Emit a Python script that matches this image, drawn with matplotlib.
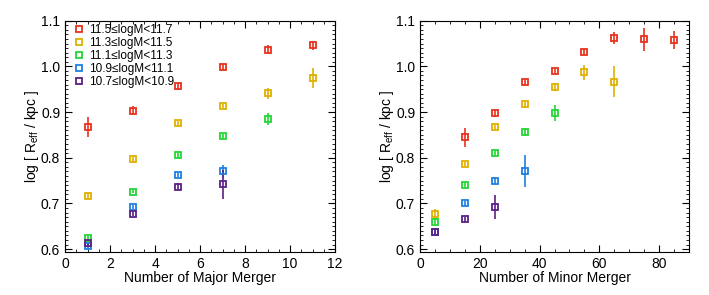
import matplotlib
matplotlib.use("Agg")
from matplotlib import pyplot as plt
from matplotlib.ticker import MultipleLocator

plt.rcParams['font.family'] = ['Liberation Sans', 'DejaVu Sans']
plt.rcParams['mathtext.fontset'] = 'custom'
plt.rcParams['mathtext.rm'] = 'Liberation Sans'

labels = ["11.5\u2264logM<11.7", "11.3\u2264logM<11.5", "11.1\u2264logM<11.3",
          "10.9\u2264logM<11.1", "10.7\u2264logM<10.9"]
colors = ["#e8321c", "#e0b000", "#22d633", "#1f7fe0", "#5b2086"]

# major mergers
major_x = [[1, 3, 5, 7, 9, 11],
           [1, 3, 5, 7, 9, 11],
           [1, 3, 5, 7, 9],
           [1, 3, 5, 7],
           [1, 3, 5, 7]]
major_y = [[0.867, 0.903, 0.956, 0.999, 1.036, 1.046],
           [0.717, 0.797, 0.876, 0.913, 0.941, 0.974],
           [0.624, 0.726, 0.805, 0.847, 0.885],
           [0.606, 0.692, 0.762, 0.770],
           [0.613, 0.677, 0.737, 0.742]]
major_err = [[0.022, 0.010, 0.007, 0.006, 0.010, 0.010],
             [0.007, 0.006, 0.005, 0.005, 0.012, 0.022],
             [0.005, 0.004, 0.005, 0.006, 0.014],
             [0.005, 0.005, 0.005, 0.014],
             [0.005, 0.005, 0.007, 0.032]]

# minor mergers
minor_x = [[15, 25, 35, 45, 55, 65, 75, 85],
           [5, 15, 25, 35, 45, 55, 65],
           [5, 15, 25, 35, 45],
           [5, 15, 25, 35],
           [5, 15, 25]]
minor_y = [[0.845, 0.897, 0.965, 0.990, 1.032, 1.062, 1.059, 1.057],
           [0.678, 0.786, 0.867, 0.917, 0.954, 0.987, 0.966],
           [0.660, 0.741, 0.810, 0.856, 0.898],
           [0.637, 0.700, 0.750, 0.771],
           [0.637, 0.665, 0.692]]
minor_err = [[0.021, 0.007, 0.005, 0.005, 0.007, 0.013, 0.025, 0.020],
             [0.010, 0.005, 0.005, 0.005, 0.009, 0.017, 0.034],
             [0.005, 0.005, 0.005, 0.008, 0.017],
             [0.005, 0.005, 0.007, 0.035],
             [0.005, 0.005, 0.027]]


def style_axis(ax, xmaj, xmin):
    ax.xaxis.set_major_locator(MultipleLocator(xmaj))
    ax.xaxis.set_minor_locator(MultipleLocator(xmin))
    ax.yaxis.set_major_locator(MultipleLocator(0.1))
    ax.yaxis.set_minor_locator(MultipleLocator(0.01))
    ax.yaxis.set_major_formatter(plt.FormatStrFormatter('%.1f'))
    ax.tick_params(which='both', direction='in', top=True, right=True, labelsize=10)
    ax.tick_params(which='major', length=5, width=0.8)
    ax.tick_params(which='minor', length=2.5, width=0.6)
    for s in ax.spines.values():
        s.set_linewidth(0.8)
    ax.set_ylim(0.594, 1.1)
    ax.set_ylabel("log [ R$_{\\rm eff}$ / kpc ]", fontsize=10, labelpad=0)


def draw(ax, xs, ys, es):
    for x, y, e, c, lab in zip(xs, ys, es, colors, labels):
        ax.errorbar(x, y, yerr=e, fmt='none', ecolor=c, elinewidth=1.2, capsize=0, zorder=2)
        ax.plot(x, y, ls='none', marker='s', ms=5, mfc='none', mec=c, mew=1.3, label=lab, zorder=3)


fig = plt.figure(figsize=(7.09, 2.95), dpi=100)
ax1 = fig.add_axes([0.0917, 0.146, 0.3808, 0.784])
ax2 = fig.add_axes([0.5924, 0.146, 0.3795, 0.784])

draw(ax1, major_x, major_y, major_err)
style_axis(ax1, 2, 0.5)
ax1.set_xlim(0, 12)
ax1.set_xlabel("Number of Major Merger", fontsize=10, labelpad=0)
ax1.legend(loc='upper left', fontsize=8.5, frameon=False, handlelength=0.8, handletextpad=0.5,
           labelspacing=0.08, borderaxespad=0.1, borderpad=0.2, markerscale=1.0,
           bbox_to_anchor=(0.02, 1.0))

draw(ax2, minor_x, minor_y, minor_err)
style_axis(ax2, 20, 5)
ax2.set_xlim(0, 90)
ax2.set_xlabel("Number of Minor Merger", fontsize=10, labelpad=0)

fig.savefig("out.png", dpi=100)
